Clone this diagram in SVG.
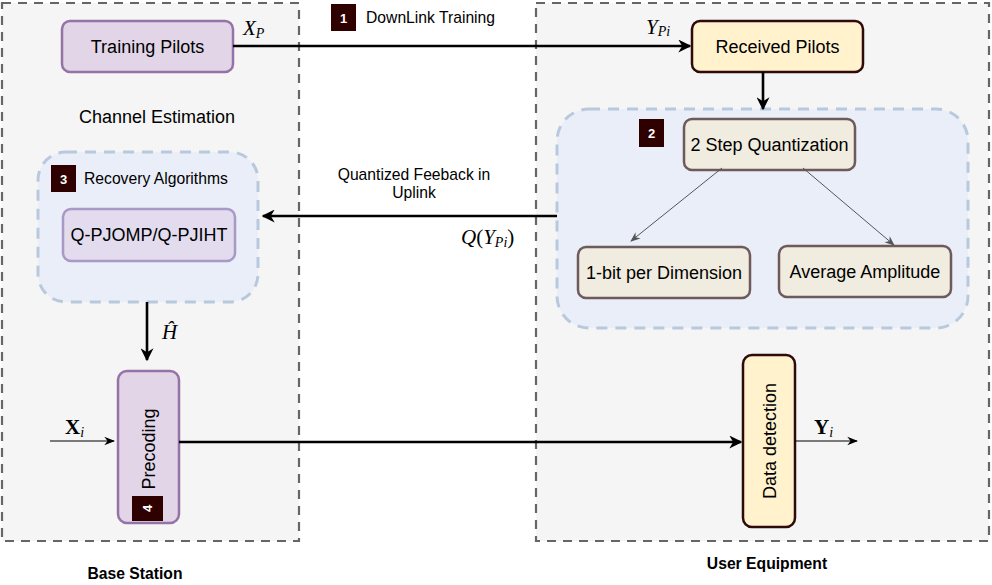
<svg xmlns="http://www.w3.org/2000/svg" width="992" height="585" viewBox="0 0 992 585">
<style>
.cont{fill:#f5f5f5;stroke:#666;stroke-width:2.2;stroke-dasharray:9 7}
.grp{fill:#e9eef8;stroke:#b9c9dd;stroke-width:3;stroke-dasharray:11 8}
.purple{fill:#e1d5e7;stroke:#9673a6;stroke-width:2.5}
.yellow{fill:#fff2cc;stroke:#2e0a0a;stroke-width:2.5}
.beige{fill:#f0ecdf;stroke:#6e5a5a;stroke-width:2.5}
.lbl{font-family:"Liberation Sans",Arial,sans-serif;font-size:18px;fill:#000;text-anchor:middle}
.sm{font-family:"Liberation Sans",Arial,sans-serif;font-size:15.7px;fill:#000}
.bold{font-family:"Liberation Sans",Arial,sans-serif;font-size:15.7px;font-weight:bold;fill:#000;text-anchor:middle}
.badge{fill:#2e0000}
.bnum{font-family:"Liberation Sans",Arial,sans-serif;font-size:13px;font-weight:bold;fill:#fff;text-anchor:middle}
.math{font-family:"Liberation Serif","Times New Roman",serif;font-size:21px;font-style:italic;fill:#000}
.mb{font-family:"Liberation Serif","Times New Roman",serif;font-size:21px;font-style:normal;font-weight:bold;fill:#000}
.sub{font-size:14px;font-style:italic;font-weight:normal}
.up{font-style:normal}
.thick{stroke:#000;stroke-width:2.6;fill:none}
.thin{stroke:#000;stroke-width:1.2;fill:none}
.gray{stroke:#555;stroke-width:1;fill:none}
</style>
<defs>
<marker id="ah" viewBox="0 0 10 10" refX="9" refY="5" markerWidth="5" markerHeight="5" orient="auto" markerUnits="strokeWidth">
<path d="M0,0 L10,5 L0,10 L3,5 z" fill="#000"/>
</marker>
<marker id="ahs" viewBox="0 0 10 10" refX="9" refY="5" markerWidth="9" markerHeight="9" orient="auto" markerUnits="strokeWidth">
<path d="M0,1 L10,5 L0,9 L3,5 z" fill="#000"/>
</marker>
<marker id="ahg" viewBox="0 0 10 10" refX="9" refY="5" markerWidth="10" markerHeight="10" orient="auto" markerUnits="strokeWidth">
<path d="M0,1 L10,5 L0,9 L3,5 z" fill="#555"/>
</marker>
</defs>

<g id="base-station">
<rect class="cont" x="2" y="3" width="297" height="538"/>
<text class="bold" x="135" y="579">Base Station</text>
</g>
<g id="user-equipment">
<rect class="cont" x="536" y="3" width="453" height="538"/>
<text class="bold" x="767" y="569">User Equipment</text>
</g>

<g id="group-quantization">
<rect class="grp" x="557" y="109" width="411" height="219" rx="32" ry="32"/>
<rect class="badge" x="639" y="119" width="25" height="28"/>
<text class="bnum" x="651.5" y="138">2</text>
</g>

<g id="group-recovery">
<rect class="grp" x="38" y="152" width="220" height="150" rx="28" ry="28"/>
<rect class="badge" x="51" y="165" width="25" height="27"/>
<text class="bnum" x="63.5" y="183.5">3</text>
<text class="sm" x="84" y="184">Recovery Algorithms</text>
</g>

<g id="training-pilots">
<rect class="purple" x="62" y="21" width="171" height="51" rx="8"/>
<text class="lbl" x="147.5" y="53">Training Pilots</text>
</g>

<g id="channel-estimation-label">
<text class="lbl" x="157" y="123">Channel Estimation</text>
</g>

<g id="downlink-label">
<rect class="badge" x="331" y="4" width="25" height="27"/>
<text class="bnum" x="343.5" y="22.5">1</text>
<text class="sm" x="366" y="23">DownLink Training</text>
</g>

<g id="received-pilots">
<rect class="yellow" x="692" y="21" width="171" height="51" rx="8"/>
<text class="lbl" x="777.5" y="53">Received Pilots</text>
</g>

<g id="two-step-quantization">
<rect class="beige" x="684" y="119" width="171" height="51" rx="8"/>
<text class="lbl" x="769.5" y="151">2 Step Quantization</text>
</g>

<g id="one-bit">
<rect class="beige" x="578" y="247" width="172" height="51" rx="8"/>
<text class="lbl" x="664" y="279">1-bit per Dimension</text>
</g>

<g id="average-amplitude">
<rect class="beige" x="779" y="246" width="172" height="51" rx="8"/>
<text class="lbl" x="865" y="278">Average Amplitude</text>
</g>

<g id="recovery-node">
<rect x="63" y="209" width="172" height="52" rx="8" fill="#e2dcee" stroke="#a999c6" stroke-width="2.5"/>
<text class="lbl" x="149" y="241">Q-PJOMP/Q-PJIHT</text>
</g>

<g id="precoding">
<rect class="purple" x="118" y="371" width="61" height="152" rx="9"/>
<text class="lbl" transform="translate(155,449) rotate(-90)">Precoding</text>
<rect class="badge" x="132" y="496" width="31" height="25"/>
<text class="bnum" transform="translate(152,508.5) rotate(-90)">4</text>
</g>

<g id="data-detection">
<rect class="yellow" x="743" y="355" width="52" height="172" rx="9"/>
<text class="lbl" transform="translate(776,441) rotate(-90)">Data detection</text>
</g>

<g id="connectors">
<line class="thick" x1="233" y1="46" x2="690" y2="46" marker-end="url(#ah)"/>
<line class="thick" x1="763" y1="72" x2="763" y2="109" marker-end="url(#ah)"/>
<line class="thick" x1="557" y1="216" x2="263" y2="216" marker-end="url(#ah)"/>
<line class="thick" x1="147" y1="302" x2="147" y2="360" marker-end="url(#ah)"/>
<line class="thick" x1="179" y1="442" x2="741" y2="442" marker-end="url(#ah)"/>
<line class="thin" x1="50" y1="441" x2="114" y2="441" marker-end="url(#ahs)"/>
<line class="thin" x1="795" y1="441" x2="857" y2="441" marker-end="url(#ahs)"/>
<line class="gray" x1="722" y1="168" x2="631" y2="241" marker-end="url(#ahg)"/>
<line class="gray" x1="803" y1="168" x2="894" y2="245" marker-end="url(#ahg)"/>
</g>

<g id="labels">
<text class="math" x="243" y="35">X<tspan class="sub" dy="3">P</tspan></text>
<text class="math" x="646" y="34">Y<tspan class="sub" dy="2">Pi</tspan></text>
<text class="sm" x="414" y="180" text-anchor="middle">Quantized Feeback in</text>
<text class="sm" x="414" y="198" text-anchor="middle">Uplink</text>
<text class="math" x="461" y="244">Q<tspan class="up">(</tspan>Y<tspan class="sub" dy="3">Pi</tspan><tspan class="up" dy="-3">)</tspan></text>
<text class="math" x="162" y="339">Ĥ</text>
<text class="mb" x="65" y="434">X<tspan class="sub" dy="3">i</tspan></text>
<text class="mb" x="814" y="434">Y<tspan class="sub" dy="3">i</tspan></text>
</g>
</svg>
